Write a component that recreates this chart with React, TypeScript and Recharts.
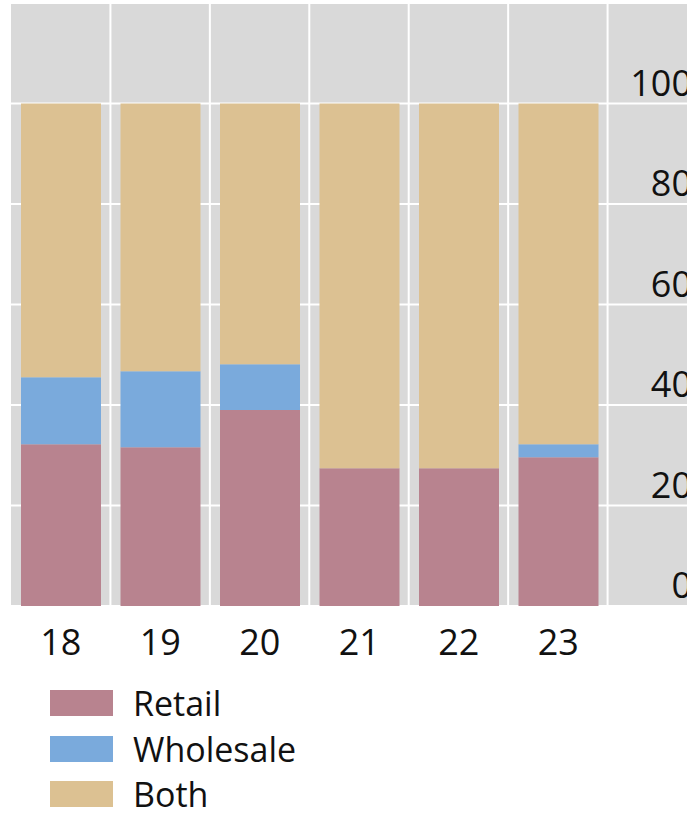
import React from "react";
import { BarChart, Bar, XAxis, YAxis, CartesianGrid, Legend } from "recharts";

const years = ["18", "19", "20", "21", "22", "23"];
const retail = [32.2, 31.6, 39.0, 27.4, 27.4, 29.6];
const wholesale = [13.3, 15.1, 9.1, 0, 0, 2.6];
const both = [54.5, 53.3, 51.9, 72.6, 72.6, 67.8];
const yTicks = [0, 20, 40, 60, 80, 100];

const series = [
  { key: "retail", name: "Retail", color: "#b8838f" },
  { key: "wholesale", name: "Wholesale", color: "#7aaadc" },
  { key: "both", name: "Both", color: "#dcc192" },
];

const data = years.map((year, i) => ({
  year,
  retail: retail[i],
  wholesale: wholesale[i],
  both: both[i],
}));

const FONT = "'Open Sans', 'Noto Sans', sans-serif";

const XTick = (props: any) => {
  const { x, y, payload } = props;
  return (
    <text x={x} y={y} dy={49} textAnchor="middle" fontSize={36} fontFamily={FONT} fill="#111">
      {payload.value}
    </text>
  );
};

const YTick = (props: any) => {
  const { x, y, payload } = props;
  return (
    <text x={x} y={y} dx={-15} dy={-8} textAnchor="end" fontSize={36} fontFamily={FONT} fill="#111">
      {payload.value}
    </text>
  );
};

const LegendBox = () => (
  <div style={{ position: "relative", width: 300, height: 130, fontFamily: FONT }}>
    {series.map((s, i) => (
      <div
        key={s.key}
        style={{ position: "absolute", left: 50, top: 7 + i * 45.5, display: "flex", alignItems: "center", height: 26 }}
      >
        <div style={{ width: 63, height: 26, background: s.color }} />
        <span style={{ marginLeft: 20, fontSize: 34, color: "#111", lineHeight: "26px" }}>{s.name}</span>
      </div>
    ))}
  </div>
);

const App: React.FC = () => {
  return (
    <div style={{ position: "absolute", left: 0, top: 0, width: 687, height: 813, overflow: "hidden", background: "#fff" }}>
      <BarChart
        width={720}
        height={813}
        data={data}
        margin={{ top: 3, right: 13, bottom: 0, left: 11 }}
        barSize={80}
      >
        <CartesianGrid
          fill="#d9d9d9"
          stroke="#ffffff"
          strokeWidth={2}
          verticalCoordinatesGenerator={({ offset }: any) => {
            const band = offset.width / 7;
            return [1, 2, 3, 4, 5, 6].map((i) => offset.left + band * i);
          }}
        />
        <XAxis
          dataKey="year"
          axisLine={false}
          tickLine={false}
          tickSize={0}
          tickMargin={0}
          height={77}
          padding={{ left: 0, right: 99 }}
          tick={<XTick />}
        />
        <YAxis
          orientation="right"
          mirror
          domain={[0, 120]}
          ticks={yTicks}
          axisLine={false}
          tickLine={false}
          tickSize={0}
          tickMargin={0}
          tick={<YTick />}
        />
        <Legend
          verticalAlign="bottom"
          align="left"
          content={() => <LegendBox />}
          wrapperStyle={{ left: 0, bottom: 0, width: 300, height: 130 }}
        />
        {series.map((s) => (
          <Bar key={s.key} dataKey={s.key} name={s.name} stackId="a" fill={s.color} isAnimationActive={false} />
        ))}
      </BarChart>
    </div>
  );
};

export default App;
